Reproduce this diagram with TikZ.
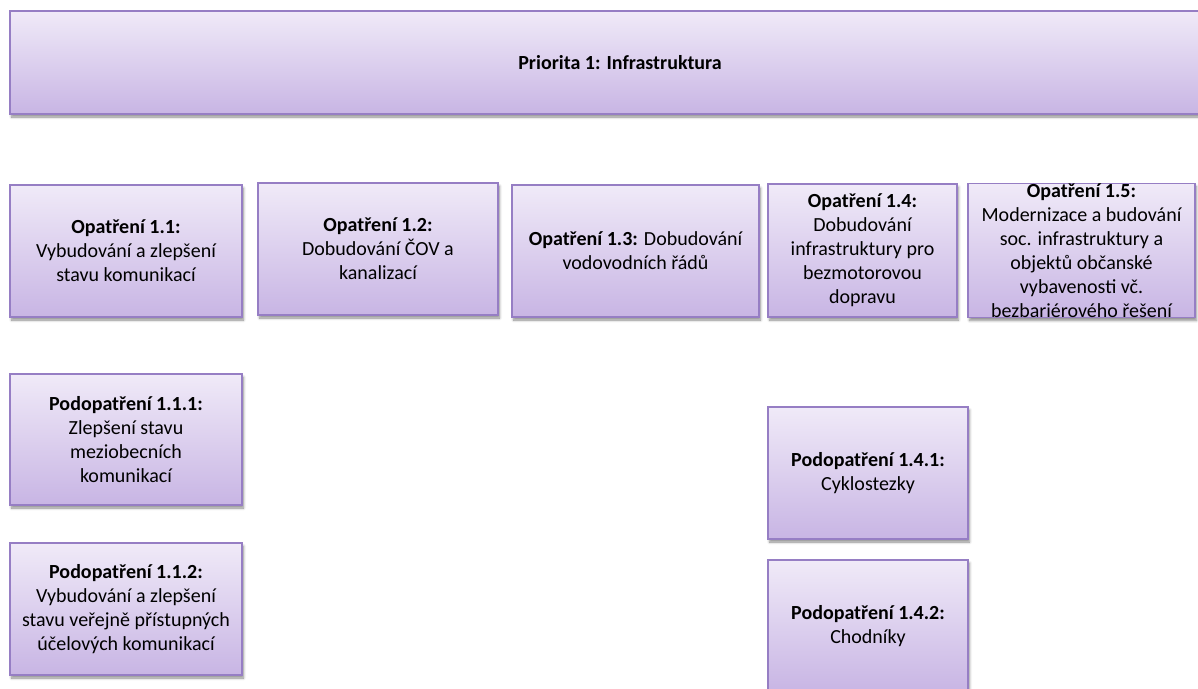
\documentclass[tikz,border=0pt]{standalone}
\usepackage{fontspec}
\setmainfont{Carlito}
\usepackage{tikz}
\usetikzlibrary{shadows, shadows.blur}
\definecolor{boxtop}{RGB}{240,234,248}
\definecolor{boxbottom}{RGB}{200,181,228}
\definecolor{boxline}{RGB}{150,126,196}

\tikzset{
  opbox/.style={draw=boxline, line width=1.4pt, top color=boxtop, bottom color=boxbottom,
    inner sep=0pt, align=center, font=\fontsize{20}{24}\selectfont,
    blur shadow={shadow xshift=1.5pt, shadow yshift=-3pt, shadow blur radius=2.5pt,
      shadow blur steps=6, shadow opacity=45}}
}

\begin{document}
\begin{tikzpicture}[x=1pt, y=-1pt]
                \useasboundingbox (0,0) rectangle (1198,688);

                % Priority
                \node[opbox, minimum width=1220pt, minimum height=103pt] (prio) at (620,62.5) {};
                \node[font=\fontsize{20}{24}\selectfont\bfseries] (priotext) at (620,62.5) {Priorita 1: Infrastruktura};

                % Measures
                \node[opbox, minimum width=232pt, minimum height=132pt] (op11) at (126,251)
                    {\textbf{Opatření 1.1:}\\Vybudování a zlepšení\\stavu komunikací};
                \node[opbox, minimum width=240pt, minimum height=132pt] (op12) at (378,249)
                    {\textbf{Opatření 1.2:}\\Dobudování ČOV a\\kanalizací};
                \node[opbox, minimum width=247pt, minimum height=132pt] (op13) at (635.5,251)
                    {\textbf{Opatření 1.3:} Dobudování\\vodovodních řádů};
                \node[opbox, minimum width=189pt, minimum height=133pt] (op14) at (862.5,250.5)
                    {\textbf{Opatření 1.4:}\\Dobudování\\infrastruktury pro\\bezmotorovou\\dopravu};
                \node[opbox, minimum width=227pt, minimum height=133pt] (op15) at (1081.5,250.5)
                    {\textbf{Opatření 1.5:}\\Modernizace a budování\\soc. infrastruktury a\\objektů občanské\\vybavenosti vč.\\bezbariérového řešení};

                % Sub-measures 1.1
                \node[opbox, minimum width=232pt, minimum height=131pt] (pod111) at (126,439.5)
                    {\textbf{Podopatření 1.1.1:}\\Zlepšení stavu\\meziobecních\\komunikací};
                \node[opbox, minimum width=232pt, minimum height=132pt] (pod112) at (126,609)
                    {\textbf{Podopatření 1.1.2:}\\Vybudování a zlepšení\\stavu veřejně přístupných\\účelových komunikací};

                % Sub-measures 1.4
                \node[opbox, minimum width=200pt, minimum height=132pt] (pod141) at (868,473)
                    {\textbf{Podopatření 1.4.1:}\\Cyklostezky};
                \node[opbox, minimum width=200pt, minimum height=132pt] (pod142) at (868,626)
                    {\textbf{Podopatření 1.4.2:}\\Chodníky};
            \end{tikzpicture}
\end{document}
